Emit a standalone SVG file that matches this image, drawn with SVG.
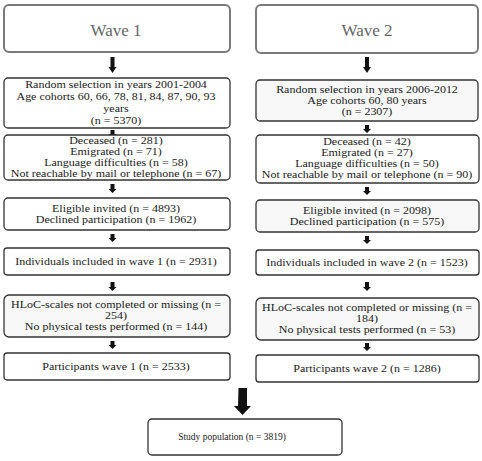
<svg xmlns="http://www.w3.org/2000/svg" width="482" height="461" viewBox="0 0 482 461">
<style>
.wave{fill:#fff;stroke:#7a7a7a;stroke-width:2}
.box{fill:#fff;stroke:#333;stroke-width:1.3}
.boxs{fill:#f8f8f8;stroke:#333;stroke-width:1.3}
text{font-family:"Liberation Serif","Times New Roman",serif;font-size:10px;fill:#1a1a1a;text-anchor:middle}
.wt{font-size:17px;fill:#666}
.sm{font-size:9.5px}
.arr{fill:#111}
</style>
<rect width="482" height="461" fill="#fff"/>
<g id="connectors">
<path class="arr" d="M110.5 57h4v10h2l-4 6l-4-6h2z"/>
<path class="arr" d="M110.5 130h4v4h2l-4 4l-4-4h2z"/>
<path class="arr" d="M110.5 184h4v5h2l-4 4l-4-4h2z"/>
<path class="arr" d="M110.5 234h4v4h2l-4 4l-4-4h2z"/>
<path class="arr" d="M110.5 282h4v5h2l-4 4l-4-4h2z"/>
<path class="arr" d="M110.5 341h4v4h2l-4 4l-4-4h2z"/>
<path class="arr" d="M365 57h4v10h2l-4 6l-4-6h2z"/>
<path class="arr" d="M365 125h4v4h2l-4 4l-4-4h2z"/>
<path class="arr" d="M365 187h4v4h2l-4 4l-4-4h2z"/>
<path class="arr" d="M365 236h4v4h2l-4 4l-4-4h2z"/>
<path class="arr" d="M365 282h4v5h2l-4 4l-4-4h2z"/>
<path class="arr" d="M365 343h4v4h2l-4 4l-4-4h2z"/>
<path class="arr" d="M238.5 388h8.5v18h4l-8.5 9l-8.5-9h4z"/>
</g>
<g id="wave1"><rect class="wave" x="4" y="5" width="226" height="47" rx="5"/><text class="wt" x="116" y="36">Wave 1</text></g>
<g id="wave2"><rect class="wave" x="256" y="5" width="222" height="48" rx="5"/><text class="wt" x="367" y="36">Wave 2</text></g>
<g id="sel1"><rect class="box" x="4" y="78" width="226" height="50" rx="4"/>
<g transform="translate(116 0) scale(1.2 1)">
<text x="0" y="88">Random selection in years 2001-2004</text>
<text x="0" y="100">Age cohorts 60, 66, 78, 81, 84, 87, 90, 93</text>
<text x="0" y="112">years</text>
<text x="0" y="124">(n = 5370)</text></g></g>
<g id="sel2"><rect class="boxs" x="256" y="80" width="222" height="41" rx="4"/>
<g transform="translate(367 0) scale(1.2 1)">
<text x="0" y="93">Random selection in years 2006-2012</text>
<text x="0" y="104">Age cohorts 60, 80 years</text>
<text x="0" y="115">(n = 2307)</text></g></g>
<g id="exc1"><rect class="box" x="4" y="135" width="226" height="45" rx="4"/>
<g transform="translate(116 0) scale(1.2 1)">
<text x="0" y="144">Deceased (n = 281)</text>
<text x="0" y="155">Emigrated (n = 71)</text>
<text x="0" y="166">Language difficulties (n = 58)</text>
<text x="0" y="177">Not reachable by mail or telephone (n = 67)</text></g></g>
<g id="exc2"><rect class="box" x="256" y="135" width="223" height="48" rx="4"/>
<g transform="translate(367 0) scale(1.2 1)">
<text x="0" y="145">Deceased (n = 42)</text>
<text x="0" y="156">Emigrated (n = 27)</text>
<text x="0" y="167">Language difficulties (n = 50)</text>
<text x="0" y="178">Not reachable by mail or telephone (n = 90)</text></g></g>
<g id="elig1"><rect class="box" x="4" y="198" width="226" height="32" rx="4"/>
<g transform="translate(116 0) scale(1.2 1)">
<text x="0" y="212">Eligible invited (n = 4893)</text>
<text x="0" y="223">Declined participation (n = 1962)</text></g></g>
<g id="elig2"><rect class="boxs" x="256" y="200" width="223" height="32" rx="4"/>
<g transform="translate(367 0) scale(1.2 1)">
<text x="0" y="214">Eligible invited (n = 2098)</text>
<text x="0" y="225">Declined participation (n = 575)</text></g></g>
<g id="inc1"><rect class="box" x="4" y="248" width="226" height="27" rx="3"/>
<g transform="translate(116 0) scale(1.2 1)">
<text x="0" y="265">Individuals included in wave 1 (n = 2931)</text></g></g>
<g id="inc2"><rect class="box" x="256" y="250" width="223" height="25" rx="3"/>
<g transform="translate(367 0) scale(1.2 1)">
<text x="0" y="266">Individuals included in wave 2 (n = 1523)</text></g></g>
<g id="hloc1"><rect class="boxs" x="4" y="295" width="226" height="42" rx="5"/>
<g transform="translate(116 0) scale(1.2 1)">
<text x="0" y="308">HLoC-scales not completed or missing (n =</text>
<text x="0" y="319">254)</text>
<text x="0" y="330">No physical tests performed (n = 144)</text></g></g>
<g id="hloc2"><rect class="boxs" x="256" y="298" width="223" height="42" rx="5"/>
<g transform="translate(367 0) scale(1.2 1)">
<text x="0" y="311">HLoC-scales not completed or missing (n =</text>
<text x="0" y="322">184)</text>
<text x="0" y="333">No physical tests performed (n = 53)</text></g></g>
<g id="part1"><rect class="box" x="4" y="353" width="226" height="27" rx="3"/>
<g transform="translate(116 0) scale(1.2 1)">
<text x="0" y="370">Participants wave 1 (n = 2533)</text></g></g>
<g id="part2"><rect class="box" x="256" y="355" width="223" height="27" rx="3"/>
<g transform="translate(367 0) scale(1.2 1)">
<text x="0" y="372">Participants wave 2 (n = 1286)</text></g></g>
<g id="study"><rect class="box" x="148" y="419" width="194" height="36" rx="4"/>
<text class="sm" x="232" y="440">Study population (n = 3819)</text></g>
</svg>
